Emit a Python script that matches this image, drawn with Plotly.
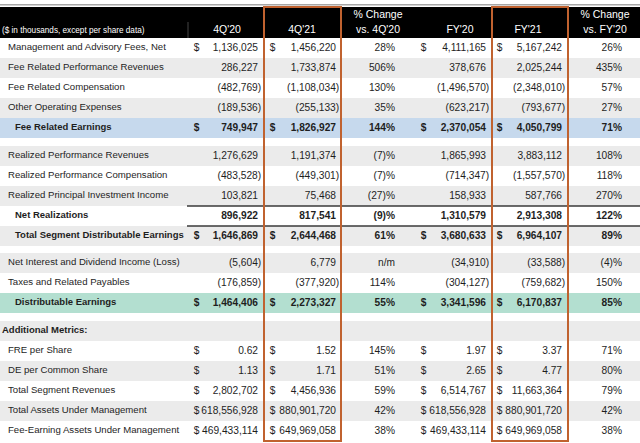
import math
import plotly.graph_objects as go

# ---------------- data ----------------
labels = [
    "Management and Advisory Fees, Net",
    "Fee Related Performance Revenues",
    "Fee Related Compensation",
    "Other Operating Expenses",
    "Fee Related Earnings",
    "Realized Performance Revenues",
    "Realized Performance Compensation",
    "Realized Principal Investment Income",
    "Net Realizations",
    "Total Segment Distributable Earnings",
    "Net Interest and Dividend Income (Loss)",
    "Taxes and Related Payables",
    "Distributable Earnings",
    "Additional Metrics:",
    "FRE per Share",
    "DE per Common Share",
    "Total Segment Revenues",
    "Total Assets Under Management",
    "Fee-Earning Assets Under Management",
]
q4_20 = [1136025, 286227, -482769, -189536, 749947,
         1276629, -483528, 103821, 896922, 1646869,
         -5604, -176859, 1464406,
         None, 0.62, 1.13, 2802702, 618556928, 469433114]
q4_21 = [1456220, 1733874, -1108034, -255133, 1826927,
         1191374, -449301, 75468, 817541, 2644468,
         6779, -377920, 2273327,
         None, 1.52, 1.71, 4456936, 880901720, 649969058]
chg_q = [28, 506, 130, 35, 144,
         -7, -7, -27, -9, 61,
         float("nan"), 114, 55,
         None, 145, 51, 59, 42, 38]
fy20 = [4111165, 378676, -1496570, -623217, 2370054,
        1865993, -714347, 158933, 1310579, 3680633,
        -34910, -304127, 3341596,
        None, 1.97, 2.65, 6514767, 618556928, 469433114]
fy21 = [5167242, 2025244, -2348010, -793677, 4050799,
        3883112, -1557570, 587766, 2913308, 6964107,
        -33588, -759682, 6170837,
        None, 3.37, 4.77, 11663364, 880901720, 649969058]
chg_fy = [26, 435, 57, 27, 71,
          108, 118, 270, 122, 89,
          -4, 150, 85,
          None, 71, 80, 79, 42, 38]

header_label = "($ in thousands, except per share data)"
col_titles = ["4Q'20", "4Q'21", "% Change|vs. 4Q'20", "FY'20", "FY'21", "% Change|vs. FY'20"]

# ---------------- styling / layout ----------------
bold_rows = {"Fee Related Earnings", "Net Realizations", "Total Segment Distributable Earnings",
             "Distributable Earnings", "Additional Metrics:"}
dollar_rows = {"Management and Advisory Fees, Net", "Fee Related Earnings",
               "Total Segment Distributable Earnings", "Distributable Earnings",
               "FRE per Share", "DE per Common Share", "Total Segment Revenues",
               "Total Assets Under Management", "Fee-Earning Assets Under Management"}
per_share_rows = {"FRE per Share", "DE per Common Share"}
line_above_rows = {"Net Realizations", "Total Segment Distributable Earnings"}
GRAY, WHITE, BLUE, GREEN = "#ebebeb", "#ffffff", "#c6d9ed", "#b3dfd0"
fills = [WHITE, GRAY, WHITE, GRAY, BLUE,
         GRAY, WHITE, GRAY, WHITE, GRAY,
         GRAY, WHITE, GREEN,
         GRAY, WHITE, GRAY, WHITE, GRAY, WHITE]
spacer_after = {4: 8, 9: 7, 12: 8}

W, H = 640, 443
HEADER_TOP, HEADER_BOT = 7, 38
ROW_H = 20
FONT = "Liberation Sans"
TXT = "#1e1e1e"
NUM_SIZE = 10.2

tops = []
y = HEADER_BOT
for i in range(len(labels)):
    tops.append(y)
    y += ROW_H
    y += spacer_after.get(i, 0)
centers = [t + ROW_H / 2 for t in tops]
bottom = tops[-1] + ROW_H

value_right = [258, 336, 395, 486, 562, 622]
dollar_left = [193.8, 269.8, None, 420.8, 496.8, None]
PAREN = 3.2

def is_bold(lbl):
    return lbl in bold_rows

def fmt_val(v, lbl):
    if v is None:
        return ""
    d = 2 if lbl in per_share_rows else 0
    s = f"{abs(v):,.{d}f}"
    return f"({s})" if v < 0 else s

def fmt_pct(v):
    if v is None:
        return ""
    if isinstance(v, float) and math.isnan(v):
        return "n/m"
    return f"({abs(v)})%" if v < 0 else f"{v}%"

def b(s, lbl):
    return f"<b>{s}</b>" if is_bold(lbl) and s else s

fig = go.Figure()

# label column
indent = []
for lbl in labels:
    if lbl == "Additional Metrics:":
        indent.append(2)
    elif lbl in bold_rows:
        indent.append(15)
    else:
        indent.append(8)
fig.add_trace(go.Scatter(
    x=indent, y=centers, mode="text",
    text=[b(l, l) for l in labels],
    textposition="middle right",
    textfont=dict(family=FONT, size=[9.5 if is_bold(l) else 9.6 for l in labels], color=TXT),
    hoverinfo="skip", showlegend=False))

series = [q4_20, q4_21, chg_q, fy20, fy21, chg_fy]
for ci, ser in enumerate(series):
    is_pct = ci in (2, 5)
    xs, texts = [], []
    for v, lbl in zip(ser, labels):
        if is_pct:
            s = fmt_pct(v)
            xs.append(value_right[ci])
        else:
            s = fmt_val(v, lbl)
            xs.append(value_right[ci] + (PAREN if (v is not None and v < 0) else 0))
        texts.append(b(s, lbl))
    fig.add_trace(go.Scatter(
        x=xs, y=centers, mode="text", text=texts,
        textposition="middle left",
        textfont=dict(family=FONT, size=NUM_SIZE, color=TXT),
        hoverinfo="skip", showlegend=False))
    if dollar_left[ci] is not None:
        fig.add_trace(go.Scatter(
            x=[dollar_left[ci]] * len(labels), y=centers, mode="text",
            text=[b("$", l) if (l in dollar_rows) else "" for l in labels],
            textposition="middle right",
            textfont=dict(family=FONT, size=NUM_SIZE, color=TXT),
            hoverinfo="skip", showlegend=False))

# header texts
col_centers = [227, 302, 378, 460, 528, 605]
hx, hy, ht = [], [], []
for cx, t in zip(col_centers, col_titles):
    parts = t.split("|")
    if len(parts) == 1:
        hx.append(cx); hy.append(30); ht.append(parts[0])
    else:
        hx += [cx, cx]; hy += [15.5, 30]; ht += parts
fig.add_trace(go.Scatter(
    x=hx, y=hy, mode="text", text=ht, textposition="middle center",
    textfont=dict(family=FONT, size=10.5, color="white"),
    hoverinfo="skip", showlegend=False))
fig.add_trace(go.Scatter(
    x=[2], y=[31], mode="text", text=[header_label], textposition="middle right",
    textfont=dict(family=FONT, size=8.2, color="white"),
    hoverinfo="skip", showlegend=False))

shapes = []
# top thin line and header band
shapes.append(dict(type="line", x0=0, x1=W, y0=4.8, y1=4.8, line=dict(color="#a6a6a6", width=1.5), layer="below"))
shapes.append(dict(type="rect", x0=0, x1=W, y0=HEADER_TOP, y1=HEADER_BOT, fillcolor="#000000", line=dict(width=0), layer="below"))
shapes.append(dict(type="line", x0=188, x1=188, y0=22, y1=HEADER_BOT, line=dict(color="#444444", width=1), layer="below"))
# row fills
for t, f in zip(tops, fills):
    shapes.append(dict(type="rect", x0=0, x1=W, y0=t, y1=t + ROW_H, fillcolor=f, line=dict(width=0), layer="below"))
# rule lines above subtotal rows
for t, lbl in zip(tops, labels):
    if lbl in line_above_rows:
        shapes.append(dict(type="line", x0=187, x1=W, y0=t, y1=t, line=dict(color="#3a3a3a", width=1.5), layer="below"))
# orange highlight boxes for current-period columns
ORANGE = "#c0622f"
for x0, x1 in [(264, 341), (492, 568)]:
    shapes.append(dict(type="rect", x0=x0, x1=x1, y0=HEADER_TOP, y1=bottom, fillcolor="rgba(0,0,0,0)",
                       line=dict(color=ORANGE, width=2), layer="above"))

fig.update_layout(
    width=W, height=H, autosize=False,
    margin=dict(l=0, r=0, t=0, b=0, pad=0),
    paper_bgcolor="white", plot_bgcolor="white",
    xaxis=dict(range=[0, W], visible=False, fixedrange=True),
    yaxis=dict(range=[H, 0], visible=False, fixedrange=True),
    shapes=shapes, showlegend=False,
)
fig.write_html(
    "out.html",
    config={"displayModeBar": False},
    post_script="document.body.style.margin='0';document.body.style.overflow='hidden';",
)
